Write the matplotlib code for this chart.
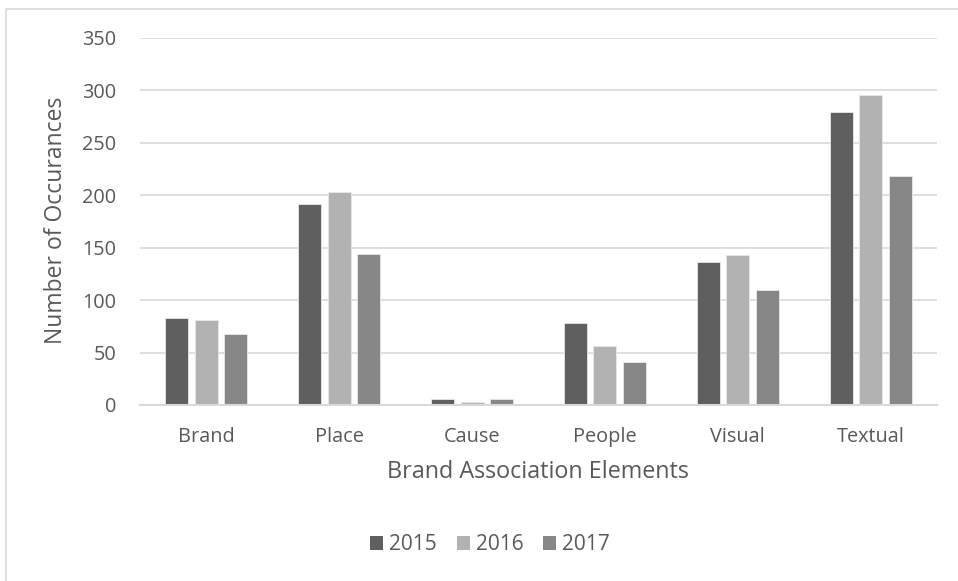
import matplotlib
matplotlib.use("Agg")
import matplotlib.pyplot as plt
import numpy as np
from matplotlib.patches import Rectangle

categories = ["Brand", "Place", "Cause", "People", "Visual", "Textual"]
years = ["2015", "2016", "2017"]
v2015 = [83, 192, 6, 78, 136, 279]
v2016 = [81, 203, 3, 56, 143, 296]
v2017 = [68, 144, 6, 41, 110, 218]
series = [v2015, v2016, v2017]
colors = ["#5f5f5f", "#b2b2b2", "#878787"]

plt.rcParams['font.family'] = ['Open Sans', 'DejaVu Sans']
txt = "#595959"

W, H = 958, 581
fig = plt.figure(figsize=(W/100, H/100), dpi=100)
fig.patch.set_facecolor("white")
# outer chart border (left and top visible)
fig.patches.append(Rectangle((6/W, -0.05), 1.2, 1 - 8.5/H + 0.05, transform=fig.transFigure,
                             fill=False, edgecolor="#d9d9d9", linewidth=1.2))

ax = fig.add_axes([140/W, 1-405/H, (937-140)/W, (405-38)/H])
x = np.arange(len(categories))
bw = 0.173
step = 0.222
for i, (vals, c, y) in enumerate(zip(series, colors, years)):
    ax.bar(x + (i-1)*step, vals, width=bw, color=c, label=y, zorder=3,
           edgecolor="#e8e8e8", linewidth=0.6)

ax.set_xlim(-0.5, len(categories)-0.5)
ax.set_ylim(0, 350)
ax.set_yticks(range(0, 351, 50))
ax.yaxis.grid(True, color="#d9d9d9", linewidth=1.2, zorder=0)
for s in ["top", "right", "left"]:
    ax.spines[s].set_visible(False)
ax.spines["bottom"].set_color("#d9d9d9")
ax.spines["bottom"].set_linewidth(1.5)
ax.spines["bottom"].set_zorder(4)
ax.tick_params(axis="both", length=0, labelcolor=txt, labelsize=14.3)
ax.tick_params(axis="y", pad=17)
ax.tick_params(axis="x", pad=16)
ax.set_xticks(x)
ax.set_xticklabels(categories)

fig.text(538/W, 1-478/H, "Brand Association Elements", fontsize=16.8, color=txt,
         ha="center", va="baseline")
fig.text(56/W, 1-220/H, "Number of Occurances", fontsize=16.5, color=txt,
         ha="center", va="center", rotation=90)

leg = fig.legend(loc="center", bbox_to_anchor=(490/W, 1-545/H), ncol=3, frameon=False,
                 fontsize=15, handlelength=0.62, handleheight=0.62, handletextpad=0.3,
                 columnspacing=0.95)
for t in leg.get_texts():
    t.set_color(txt)
for h in leg.legend_handles:
    h.set_edgecolor("none")

fig.savefig("out.png", dpi=100, facecolor="white")
